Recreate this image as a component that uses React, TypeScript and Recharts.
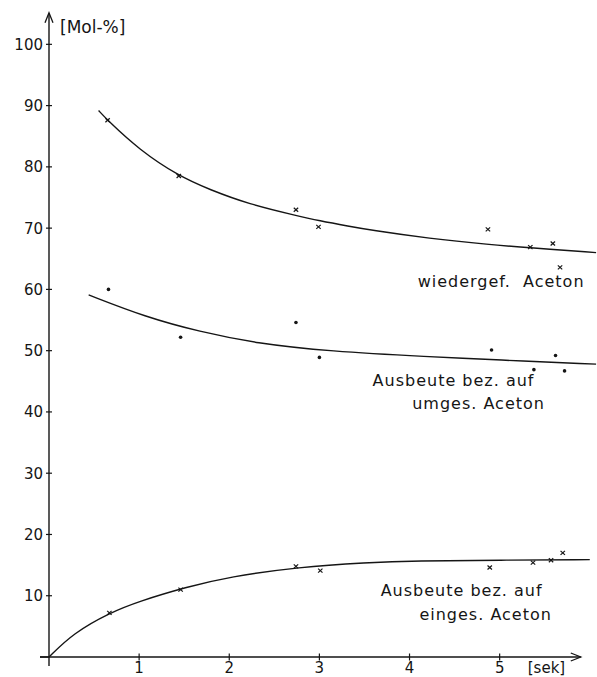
import React from "react";
import {
  ComposedChart,
  Line,
  Scatter,
  XAxis,
  YAxis,
  ReferenceDot,
} from "recharts";

// fitted curves (t in sek, v in Mol-%)
const curveWieder = [
  { t: 0.55, v: 89.2 },
  { t: 0.65, v: 87.6 },
  { t: 1.0, v: 82.8 },
  { t: 1.44, v: 78.5 },
  { t: 1.78, v: 76.3 },
  { t: 2.22, v: 73.9 },
  { t: 2.73, v: 72.1 },
  { t: 3.0, v: 71.2 },
  { t: 3.33, v: 70.3 },
  { t: 3.56, v: 69.7 },
  { t: 4.22, v: 68.3 },
  { t: 4.89, v: 67.3 },
  { t: 5.33, v: 66.8 },
  { t: 6.07, v: 66.0 },
];

const curveUmges = [
  { t: 0.44, v: 59.1 },
  { t: 1.07, v: 55.5 },
  { t: 1.67, v: 53.1 },
  { t: 2.3, v: 51.2 },
  { t: 3.11, v: 49.9 },
  { t: 4.22, v: 49.0 },
  { t: 4.96, v: 48.5 },
  { t: 6.07, v: 47.8 },
];

const curveEinges = [
  { t: 0, v: 0 },
  { t: 0.27, v: 3.9 },
  { t: 0.67, v: 7.2 },
  { t: 1.0, v: 9.1 },
  { t: 1.52, v: 11.4 },
  { t: 2.0, v: 13.1 },
  { t: 2.78, v: 14.7 },
  { t: 3.52, v: 15.4 },
  { t: 4.07, v: 15.7 },
  { t: 5.0, v: 15.8 },
  { t: 6.0, v: 15.9 },
];

// measured points
const pointsWieder = [
  { t: 0.65, v: 87.6 },
  { t: 1.44, v: 78.5 },
  { t: 2.74, v: 73.0 },
  { t: 2.99, v: 70.2 },
  { t: 4.87, v: 69.8 },
  { t: 5.34, v: 66.9 },
  { t: 5.59, v: 67.5 },
  { t: 5.67, v: 63.6 },
];

const pointsUmges = [
  { t: 0.66, v: 60.0 },
  { t: 1.46, v: 52.2 },
  { t: 2.74, v: 54.6 },
  { t: 3.0, v: 48.9 },
  { t: 4.91, v: 50.1 },
  { t: 5.38, v: 46.9 },
  { t: 5.62, v: 49.2 },
  { t: 5.72, v: 46.7 },
];

const pointsEinges = [
  { t: 0.67, v: 7.2 },
  { t: 1.46, v: 11.0 },
  { t: 2.74, v: 14.8 },
  { t: 3.01, v: 14.1 },
  { t: 4.89, v: 14.6 },
  { t: 5.37, v: 15.4 },
  { t: 5.57, v: 15.8 },
  { t: 5.7, v: 17.0 },
];

const xTicks = [1, 2, 3, 4, 5];
const yTicks = [10, 20, 30, 40, 50, 60, 70, 80, 90, 100];

const curveLabels = [
  { t: 4.09, v: 60.4, text: "wiedergef.  Aceton" },
  { t: 3.59, v: 44.3, text: "Ausbeute bez. auf" },
  { t: 4.03, v: 40.5, text: "umges. Aceton" },
  { t: 3.68, v: 10.0, text: "Ausbeute bez. auf" },
  { t: 4.11, v: 6.0, text: "einges. Aceton" },
];

const INK = "#151515";
const FONT = "'DejaVu Sans', sans-serif";

const Cross = (props: any) => {
  const { cx, cy } = props;
  return (
    <g stroke={INK} strokeWidth={1.2}>
      <line x1={cx - 2.2} y1={cy - 2} x2={cx + 2.2} y2={cy + 2} />
      <line x1={cx - 2.2} y1={cy + 2} x2={cx + 2.2} y2={cy - 2} />
    </g>
  );
};

const Blob = (props: any) => {
  const { cx, cy } = props;
  return <circle cx={cx} cy={cy} r={1.8} fill={INK} />;
};

const XTick = (props: any) => {
  const { x, y, payload } = props;
  return (
    <g>
      <line x1={x} y1={y - 3.5} x2={x} y2={y + 3.5} stroke={INK} strokeWidth={1.2} />
      <text x={x} y={y + 15.5} textAnchor="middle" fontSize={15} fontFamily={FONT} fill={INK}>
        {payload.value}
      </text>
    </g>
  );
};

const YTick = (props: any) => {
  const { x, y, payload } = props;
  return (
    <g>
      <line x1={x - 3} y1={y} x2={x + 3} y2={y} stroke={INK} strokeWidth={1.2} />
      <text x={x - 6} y={y + 5.5} textAnchor="end" fontSize={15} fontFamily={FONT} fill={INK}>
        {payload.value}
      </text>
    </g>
  );
};

export default function App() {
  return (
    <div style={{ width: 597, height: 677, background: "#fff" }}>
      <style>{"body{margin:0;background:#fff}"}</style>
      <ComposedChart
        width={597}
        height={677}
        margin={{ top: 13.7, right: 0, bottom: 0, left: 0 }}
      >
        <XAxis
          type="number"
          dataKey="t"
          domain={[0, 6.08]}
          ticks={xTicks}
          tick={<XTick />}
          tickLine={false}
          tickSize={0}
          tickMargin={0}
          height={20}
          axisLine={false}
        />
        <YAxis
          type="number"
          dataKey="v"
          domain={[0, 105]}
          ticks={yTicks}
          tick={<YTick />}
          tickLine={false}
          tickSize={0}
          tickMargin={0}
          width={49}
          axisLine={{ stroke: INK, strokeWidth: 1.4 }}
        />

        <Line data={curveWieder} dataKey="v" type="basis" stroke={INK} strokeWidth={1.4} dot={false} isAnimationActive={false} />
        <Line data={curveUmges} dataKey="v" type="basis" stroke={INK} strokeWidth={1.4} dot={false} isAnimationActive={false} />
        <Line data={curveEinges} dataKey="v" type="basis" stroke={INK} strokeWidth={1.4} dot={false} isAnimationActive={false} />

        <Scatter data={pointsWieder} dataKey="v" shape={<Cross />} isAnimationActive={false} />
        <Scatter data={pointsUmges} dataKey="v" shape={<Blob />} isAnimationActive={false} />
        <Scatter data={pointsEinges} dataKey="v" shape={<Cross />} isAnimationActive={false} />

        {curveLabels.map((l, i) => (
          <ReferenceDot
            key={i}
            x={l.t}
            y={l.v}
            r={0}
            ifOverflow="visible"
            shape={(p: any) => (
              <text
                x={p.cx}
                y={p.cy}
                fontSize={16}
                letterSpacing={1}
                fontFamily={FONT}
                fill={INK}
                style={{ whiteSpace: "pre" }}
              >
                {l.text}
              </text>
            )}
          />
        ))}

        {/* y axis arrow and unit */}
        <ReferenceDot
          x={0}
          y={105}
          r={0}
          ifOverflow="visible"
          shape={(p: any) => (
            <g>
              <path
                d={`M${p.cx - 4},${p.cy + 9} L${p.cx},${p.cy - 1} L${p.cx + 4},${p.cy + 9}`}
                fill="none"
                stroke={INK}
                strokeWidth={1.3}
              />
              <text x={p.cx + 11} y={p.cy + 19} fontSize={17} fontFamily={FONT} fill={INK}>
                [Mol-%]
              </text>
            </g>
          )}
        />
        {/* x axis line with arrow and unit, axes run a little past the origin */}
        <ReferenceDot
          x={0}
          y={0}
          r={0}
          ifOverflow="visible"
          shape={(p: any) => (
            <g stroke={INK} strokeWidth={1.4}>
              <line x1={p.cx - 9} y1={p.cy} x2={p.cx} y2={p.cy} />
              <line x1={p.cx} y1={p.cy} x2={p.cx} y2={p.cy + 9} />
            </g>
          )}
        />
        <ReferenceDot
          x={5.9}
          y={0}
          r={0}
          ifOverflow="visible"
          shape={(p: any) => (
            <g>
              <line x1={40} y1={p.cy} x2={p.cx} y2={p.cy} stroke={INK} strokeWidth={1.4} />
              <path
                d={`M${p.cx - 10},${p.cy - 4} L${p.cx},${p.cy} L${p.cx - 10},${p.cy + 4}`}
                fill="none"
                stroke={INK}
                strokeWidth={1.3}
              />
              <text x={p.cx - 53} y={p.cy + 15.5} fontSize={15} fontFamily={FONT} fill={INK}>
                [sek]
              </text>
            </g>
          )}
        />
      </ComposedChart>
    </div>
  );
}
